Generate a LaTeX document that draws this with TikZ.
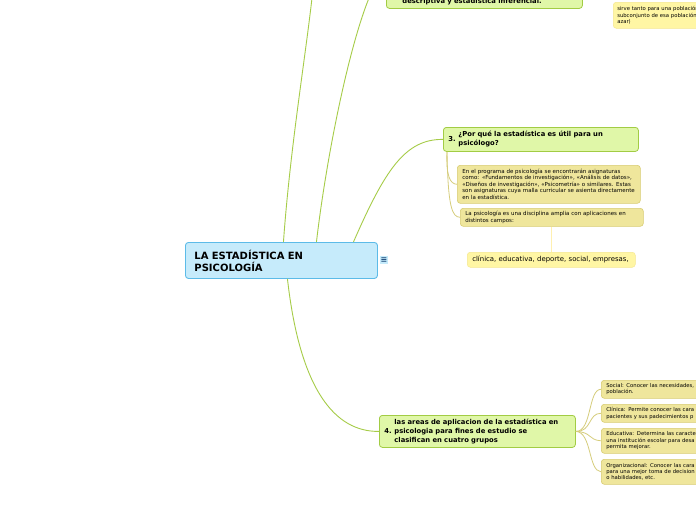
\documentclass[tikz,border=0pt]{standalone}
\usepackage{fontspec}
\setmainfont{DejaVu Sans}
\usetikzlibrary{calc}
\definecolor{gfill}{HTML}{E0F7A8}
\definecolor{gline}{HTML}{A2CC44}
\definecolor{bfill}{HTML}{C6EBFB}
\definecolor{bline}{HTML}{5CBBE8}
\definecolor{kfill}{HTML}{EFE69C}
\definecolor{kline}{HTML}{D8CC72}
\definecolor{yfill}{HTML}{FFF6A4}
\definecolor{yline}{HTML}{F5E890}
\definecolor{conn}{HTML}{A6CC48}
\definecolor{kconn}{HTML}{D6CD7C}
\definecolor{lconn}{HTML}{FFF0B0}
\definecolor{icontext}{HTML}{1E4A7A}
\tikzset{
  box/.style={rounded corners=3pt, line width=0.8pt, anchor=north west, align=left, inner ysep=0pt},
  gbox/.style={box, fill=gfill, draw=gline},
  kbox/.style={box, fill=kfill, draw=kline, line width=0.6pt},
  ybox/.style={box, fill=yfill, draw=yline, line width=0.5pt},
  mainconn/.style={draw=conn, line width=0.9pt},
  subconn/.style={draw=kconn, line width=0.8pt},
  tinyfont/.style={font=\fontsize{5.5}{6.5}\selectfont},
  leaffont/.style={font=\fontsize{5.3}{6.4}\selectfont},
  medfont/.style={font=\bfseries\fontsize{6.8}{8.8}\selectfont},
}
\begin{document}
\begin{tikzpicture}[x=1pt,y=-1pt]
\useasboundingbox (0,0) rectangle (696,520);
\clip (0,0) rectangle (696,520);
\fill[white] (0,0) rectangle (696,520);

% central node
\node[box, fill=bfill, draw=bline, line width=0.9pt, inner xsep=9pt, text width=174pt, minimum height=36pt,
  font=\bfseries\fontsize{10}{12}\selectfont] (c) at (185,242) {LA ESTADÍSTICA EN\\PSICOLOGÍA};
\node[fill=bfill, text=icontext, inner sep=0pt, minimum width=8pt, minimum height=8pt, font=\bfseries\fontsize{8}{8}\selectfont] (ic) at (384,260) {≡};

% top node (cut off)
\node[gbox, inner xsep=16pt, text width=164pt, minimum height=14pt, medfont] (t) at (386,-6) {descriptiva y estadística inferencial.};
\coordinate (t1) at (312,-2);
\coordinate (t2) at (369,-2);

% top right node (cut off)
\node[ybox, inner xsep=4pt, text width=150pt, minimum height=26pt, leaffont] (tr) at (613,2) {sirve tanto para una población\\subconjunto de esa población\\azar)};

% node 3
\node[gbox, inner xsep=5pt, text width=185pt, minimum height=24pt, medfont] (n3) at (443,127)
  {\parbox[c]{10pt}{3.}\parbox[c]{174pt}{¿Por qué la estadística es útil para un\\psicólogo?}};
\node[kbox, inner xsep=5pt, text width=173pt, minimum height=38pt, tinyfont] (a1) at (457,165)
  {En el programa de psicología se encontrarán asignaturas\\como: «Fundamentos de investigación», «Análisis de datos»,\\«Diseños de investigación», «Psicometría» o similares. Estas\\son asignaturas cuya malla curricular se asienta directamente\\en la estadística.};
\node[kbox, inner xsep=5pt, text width=173pt, minimum height=18pt, tinyfont] (a2) at (460,208)
  {La psicología es una disciplina amplia con aplicaciones en\\distintos campos:};
\node[ybox, inner xsep=5pt, text width=158pt, minimum height=15pt, font=\fontsize{6.9}{7}\selectfont] (a3) at (467,252)
  {clínica, educativa, deporte, social, empresas,};

% node 4
\node[gbox, inner xsep=5pt, text width=186pt, minimum height=32pt, medfont] (n4) at (379,415)
  {\parbox[c]{10pt}{4.}\parbox[c]{176pt}{las areas de aplicacion de la estadística en\\psicologia para fines de estudio se\\clasifican en cuatro grupos}};
\node[kbox, inner xsep=5pt, text width=150pt, minimum height=18pt, leaffont] (l1) at (601,380)
  {Social: Conocer las necesidades,\\población.};
\node[kbox, inner xsep=5pt, text width=150pt, minimum height=18pt, leaffont] (l2) at (601,404)
  {Clínica: Permite conocer las cara\\pacientes y sus padecimientos p};
\node[kbox, inner xsep=5pt, text width=150pt, minimum height=25pt, leaffont] (l3) at (601,428)
  {Educativa: Determina las caracte\\una institución escolar para desa\\permita mejorar.};
\node[kbox, inner xsep=5pt, text width=150pt, minimum height=25pt, leaffont] (l4) at (601,459)
  {Organizacional: Conocer las cara\\para una mejor toma de decision\\o habilidades, etc.};

% connectors from center
\draw[mainconn] ([xshift=2pt]c.north) .. controls (290,150) and (305,60) .. (t1);
\draw[mainconn] ([xshift=35pt]c.north) .. controls (326,160) and (348,50) .. (t2);
\draw[mainconn] ([xshift=72pt]c.north) .. controls (385,170) and (405,139) .. (n3.west);
\draw[mainconn] ([xshift=6pt]c.south) .. controls (300,390) and (335,432) .. (n4.west);

% node 3 children
\draw[subconn] ([xshift=4pt]n3.south west) .. controls (446,176) and (450,184) .. (a1.west);
\draw[subconn] ([xshift=4pt]n3.south west) .. controls (448,207) and (452,217) .. (a2.west);
\draw[draw=lconn, line width=0.8pt] (a2.south) -- (a2.south |- a3.north);

% node 4 leaves
\draw[subconn] (n4.east) .. controls (592,432) and (588,389) .. (l1.west);
\draw[subconn] (n4.east) .. controls (592,432) and (588,413) .. (l2.west);
\draw[subconn] (n4.east) .. controls (592,432) and (588,440) .. (l3.west);
\draw[subconn] (n4.east) .. controls (592,432) and (588,471) .. (l4.west);
\end{tikzpicture}
\end{document}
